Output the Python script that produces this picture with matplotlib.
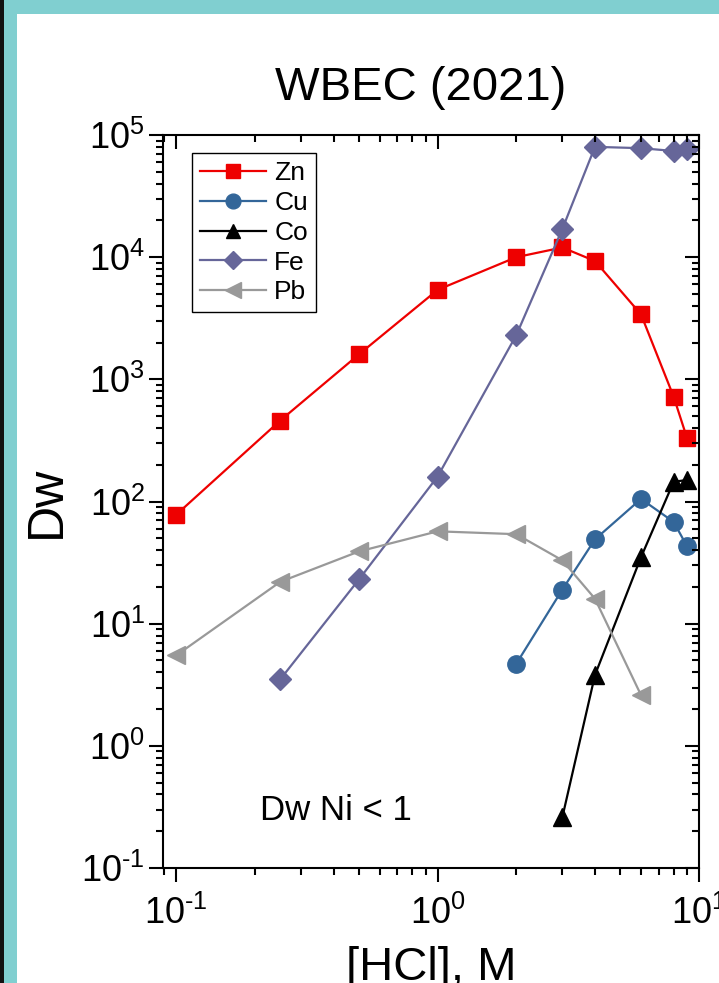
import matplotlib
matplotlib.use("Agg")
import matplotlib.pyplot as plt
from matplotlib.patches import Rectangle
from matplotlib.ticker import FuncFormatter
import numpy as np

plt.rcParams['font.family'] = ['Liberation Sans', 'DejaVu Sans']
plt.rcParams['mathtext.fontset'] = 'custom'
plt.rcParams['mathtext.rm'] = 'Liberation Sans'
plt.rcParams['mathtext.it'] = 'Liberation Sans'

# data
zn_x = [0.1, 0.25, 0.5, 1, 2, 3, 4, 6, 8, 9]
zn_y = [78, 460, 1600, 5400, 10000, 12000, 9300, 3400, 720, 330]

cu_x = [2, 3, 4, 6, 8, 9]
cu_y = [4.7, 19, 49, 105, 68, 43]

co_x = [3, 4, 6, 8, 9]
co_y = [0.26, 3.8, 35, 145, 150]

fe_x = [0.25, 0.5, 1, 2, 3, 4, 6, 8, 9]
fe_y = [3.5, 23, 160, 2300, 17000, 80000, 78000, 74000, 77000]

pb_x = [0.1, 0.25, 0.5, 1, 2, 3, 4, 6]
pb_y = [5.5, 22, 39, 57, 54, 33, 16, 2.6]

series = [
    ("Zn", zn_x, zn_y, '#EE0000', 's', 12),
    ("Cu", cu_x, cu_y, '#336699', 'o', 12.5),
    ("Co", co_x, co_y, 'black', '^', 12.5),
    ("Fe", fe_x, fe_y, '#666699', 'D', 11),
    ("Pb", pb_x, pb_y, '#999999', '<', 13),
]


def pow10(v, pos):
    e = int(round(np.log10(v)))
    if e < 0:
        return r'$\mathdefault{10^{\text{-}%d}}$' % (-e)
    return r'$\mathdefault{10^{%d}}$' % e


fig = plt.figure(figsize=(7.19, 9.83), dpi=100)
fig.patch.set_facecolor('#80CFD0')
# white panel and dark strip on the left (behind the axes)
fig.patches.append(Rectangle((17 / 719, 0), 1, 1 - 14 / 983, transform=fig.transFigure,
                             facecolor='white', edgecolor='none', zorder=-10))
fig.patches.append(Rectangle((0, 0), 4 / 719, 1, transform=fig.transFigure,
                             facecolor='#111111', edgecolor='none', zorder=-10))

ax = fig.add_axes([163 / 719, 1 - 868 / 983, 536 / 719, 733 / 983])
ax.set_facecolor('none')

for name, xs, ys, col, mk, ms in series:
    ax.plot(xs, ys, color=col, marker=mk, markersize=ms, linewidth=1.6,
            markeredgecolor=col, label=name)

ax.set_xscale('log')
ax.set_yscale('log')
ax.set_xlim(0.089, 10)
ax.set_ylim(0.1, 1e5)
ax.xaxis.set_major_formatter(FuncFormatter(pow10))
ax.yaxis.set_major_formatter(FuncFormatter(pow10))

for sp in ax.spines.values():
    sp.set_linewidth(1.5)

ax.tick_params(which='major', direction='out', length=10, width=1.5,
               labelsize=26, pad=3)
ax.tick_params(which='minor', direction='out', length=5, width=1.5)
ax.tick_params(axis='x', pad=10)

# top / right axes with ticks pointing inward
axt = ax.twiny()
axt.set_xscale('log')
axt.set_xlim(ax.get_xlim())
axt.tick_params(which='major', direction='in', length=10, width=1.5, labeltop=False)
axt.tick_params(which='minor', direction='in', length=5, width=1.5)
axr = ax.twinx()
axr.set_yscale('log')
axr.set_ylim(ax.get_ylim())
axr.tick_params(which='major', direction='in', length=10, width=1.5, labelright=False)
axr.tick_params(which='minor', direction='in', length=5, width=1.5)
for a in (axt, axr):
    for sp in a.spines.values():
        sp.set_visible(False)

ax.set_xlabel('[HCl], M', fontsize=34, labelpad=10)
ax.set_ylabel('Dw', fontsize=36, labelpad=8)

fig.text(421 / 719, 1 - 88 / 983, 'WBEC (2021)', fontsize=34, ha='center', va='center')

ax.text(0.181, 0.079, 'Dw Ni < 1', transform=ax.transAxes, fontsize=25,
        ha='left', va='center')

leg = ax.legend(loc='upper left', bbox_to_anchor=(0.055, 0.975), fontsize=19,
                frameon=True, fancybox=False, edgecolor='black', framealpha=1,
                borderpad=0.3, labelspacing=0.22, handlelength=2.5,
                handletextpad=0.3, borderaxespad=0, markerscale=0.85)
leg.get_frame().set_linewidth(1.0)

fig.savefig('out.png', dpi=100, facecolor=fig.get_facecolor())
